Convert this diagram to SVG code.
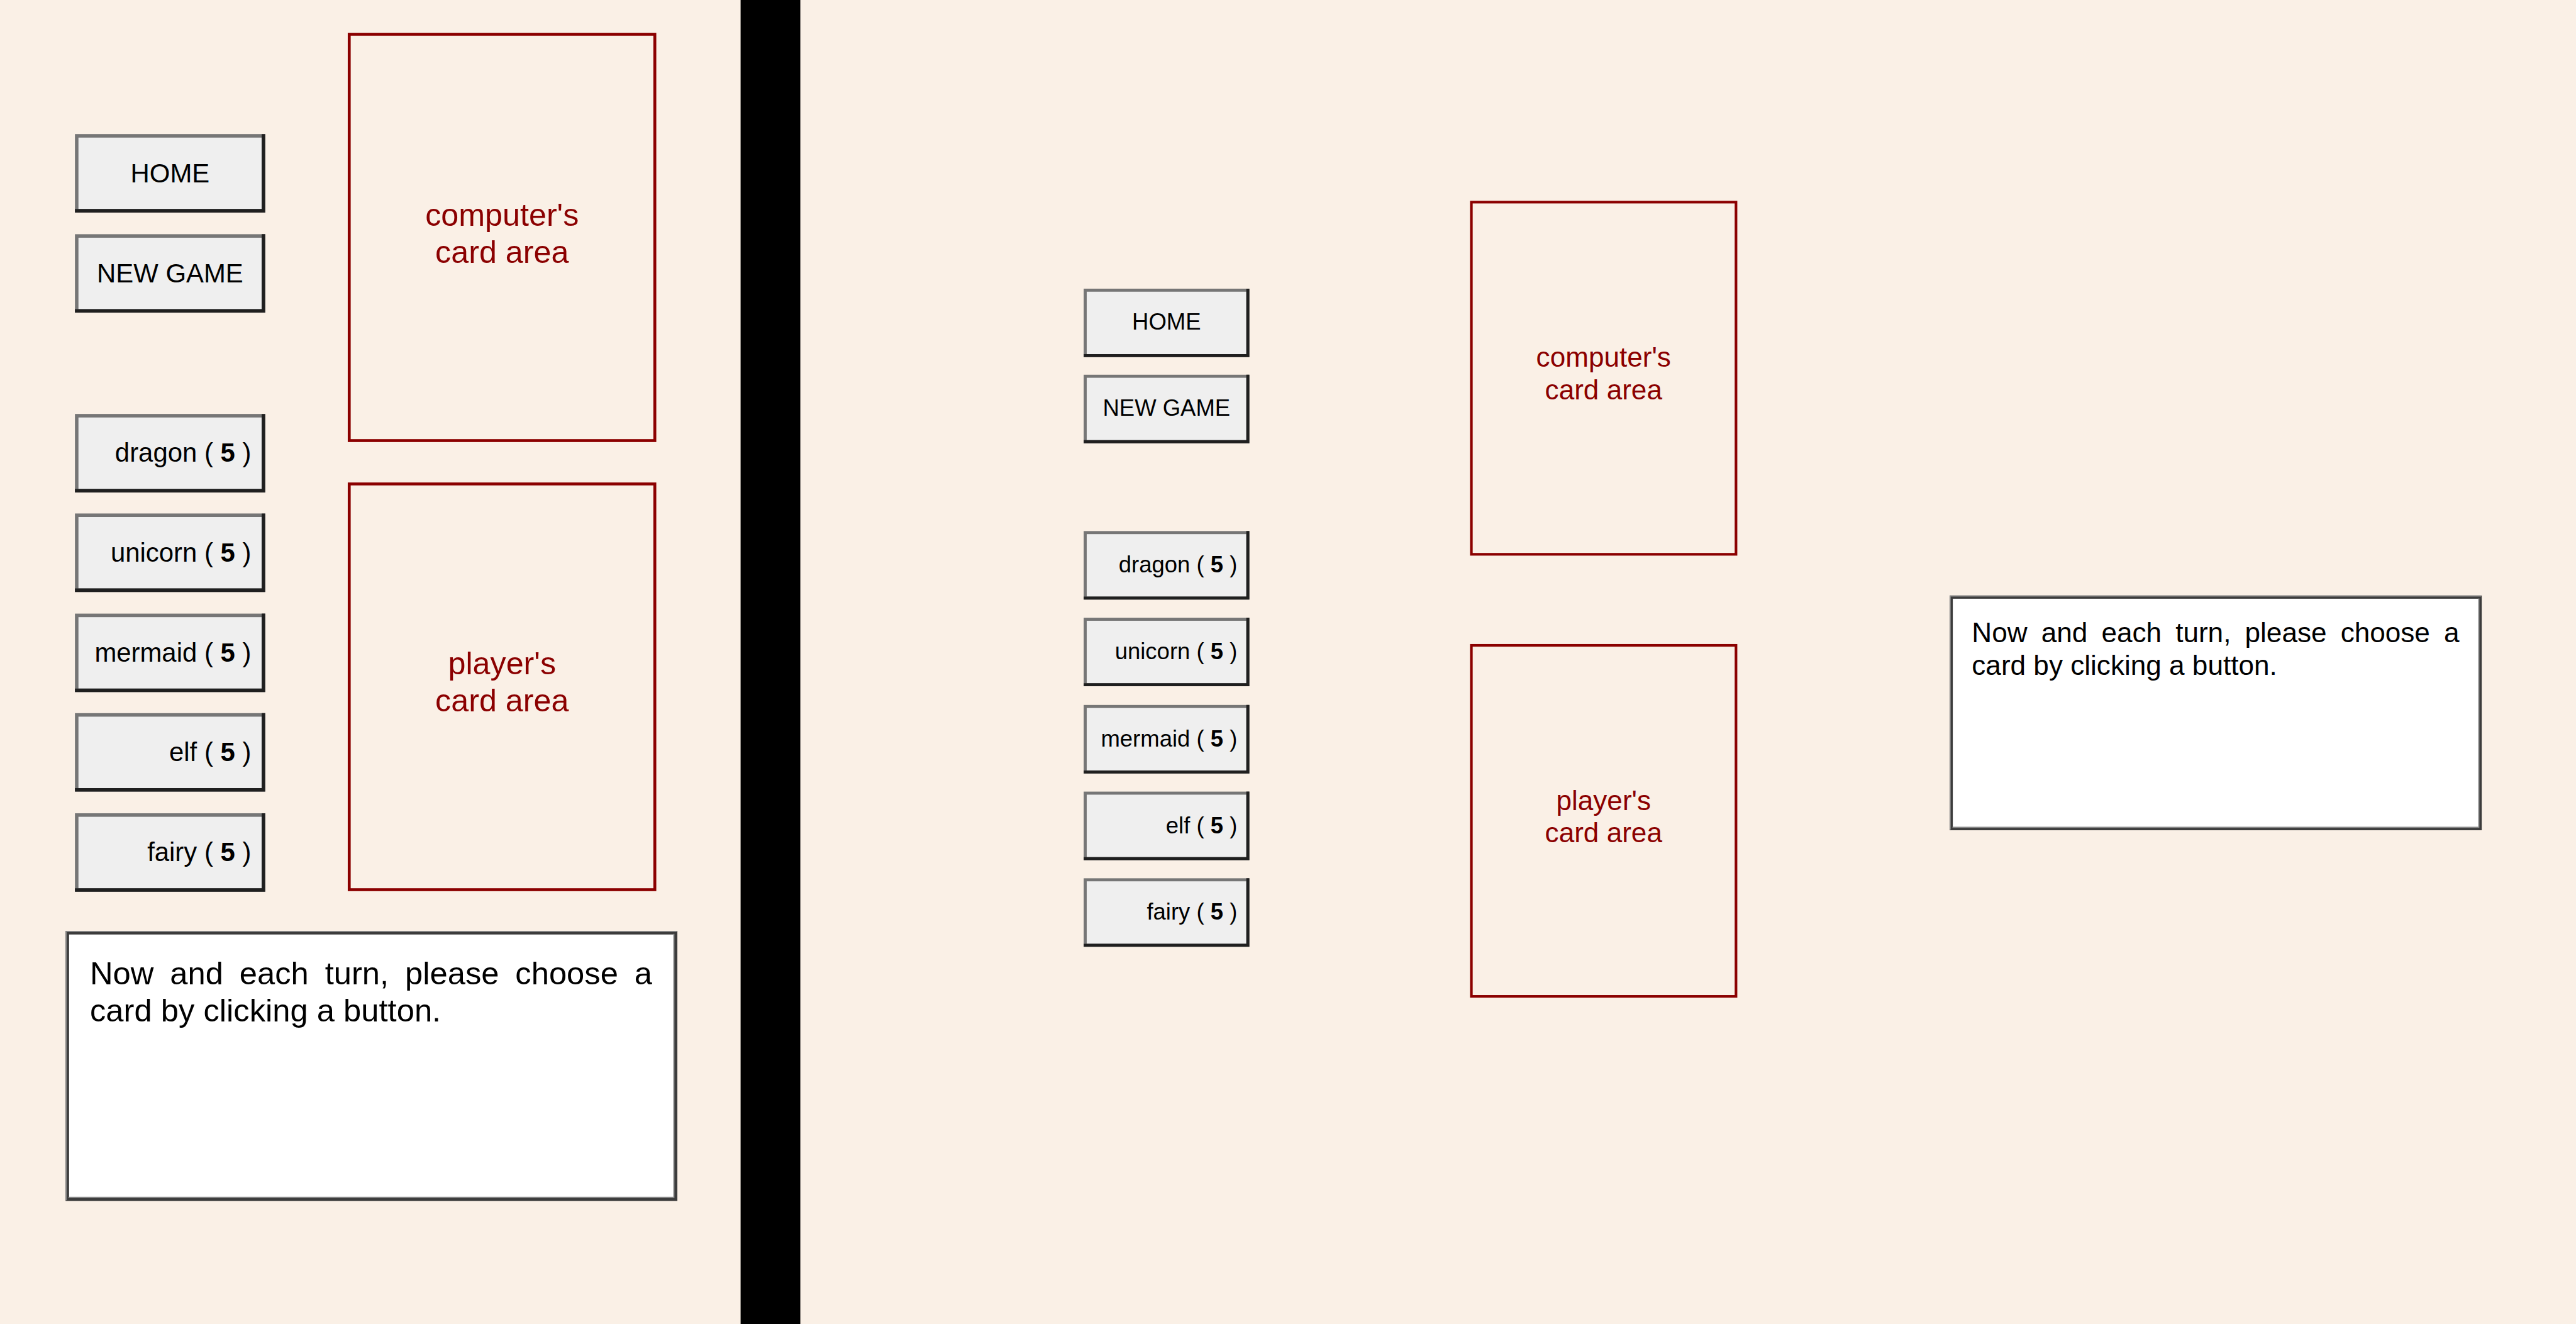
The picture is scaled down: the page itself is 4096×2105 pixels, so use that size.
<svg xmlns="http://www.w3.org/2000/svg" width="4096" height="2105" viewBox="0 0 4096 2105">
<style>
.btn{fill:#efefef;stroke:#767676}
.sh{fill:none;stroke:#1f1f1f}
.L .btn,.L .sh{stroke-width:6}
.R .btn,.R .sh{stroke-width:5.2}
.card{fill:none;stroke:#8b0000}
.t{font-family:"Liberation Sans",Arial,Helvetica,sans-serif;fill:#000}
.cl{font-family:"Liberation Sans",Arial,Helvetica,sans-serif;fill:#8b0000;text-anchor:middle}
.mid{text-anchor:middle}
.end{text-anchor:end}
.msg{fill:#fff;stroke:#3c3c3c}
.msg2{fill:none;stroke:#8c8c8c;stroke-width:2}
b,.b{font-weight:bold}
</style>
<rect x="0" y="0" width="4096" height="2105" fill="#faf0e6"/>
<g transform="scale(0.930909)">
<rect id="divider" x="1265" y="0" width="102" height="2262" fill="#000"/>

<!-- LEFT LAYOUT -->
<g class="L">
<g id="L-home"><rect class="btn" x="131" y="232" width="319" height="128"/><path class="sh" d="M450,229V360H128"/><text class="t mid" x="290.5" y="311" font-size="45">HOME</text></g>
<g id="L-newgame"><rect class="btn" x="131" y="403" width="319" height="128"/><path class="sh" d="M450,400V531H128"/><text class="t mid" x="290.5" y="482" font-size="45">NEW GAME</text></g>
<g id="L-dragon"><rect class="btn" x="131" y="710" width="319" height="128"/><path class="sh" d="M450,707V838H128"/><text class="t end" x="429" y="789" font-size="45">dragon ( <tspan class="b">5</tspan> )</text></g>
<g id="L-unicorn"><rect class="btn" x="131" y="880" width="319" height="128"/><path class="sh" d="M450,877V1008H128"/><text class="t end" x="429" y="959" font-size="45">unicorn ( <tspan class="b">5</tspan> )</text></g>
<g id="L-mermaid"><rect class="btn" x="131" y="1051" width="319" height="128"/><path class="sh" d="M450,1048V1179H128"/><text class="t end" x="429" y="1130" font-size="45">mermaid ( <tspan class="b">5</tspan> )</text></g>
<g id="L-elf"><rect class="btn" x="131" y="1221" width="319" height="128"/><path class="sh" d="M450,1218V1349H128"/><text class="t end" x="429" y="1300" font-size="45">elf ( <tspan class="b">5</tspan> )</text></g>
<g id="L-fairy"><rect class="btn" x="131" y="1392" width="319" height="128"/><path class="sh" d="M450,1389V1520H128"/><text class="t end" x="429" y="1471" font-size="45">fairy ( <tspan class="b">5</tspan> )</text></g>

<g id="L-computer-card"><rect class="card" x="596.5" y="58.5" width="522" height="694" stroke-width="5"/><text class="cl" font-size="54"><tspan x="857.5" y="386">computer's</tspan><tspan x="857.5" y="449">card area</tspan></text></g>
<g id="L-player-card"><rect class="card" x="596.5" y="826.5" width="522" height="693" stroke-width="5"/><text class="cl" font-size="54"><tspan x="857.5" y="1152">player's</tspan><tspan x="857.5" y="1215">card area</tspan></text></g>

<g id="L-message"><rect class="msg" x="115" y="1593" width="1039" height="455" stroke-width="6"/><path class="msg2" d="M113,2050V1591H1156"/><path class="msg2" d="M117,2045H1151V1595"/>
<text class="t" font-size="54.5" word-spacing="12.65"><tspan x="153.6" y="1681">Now and each turn, please choose a</tspan><tspan x="153.6" y="1744" word-spacing="0">card by clicking a button.</tspan></text></g>
</g>

<!-- RIGHT LAYOUT -->
<g class="R">
<g id="R-home"><rect class="btn" x="1853.6" y="495.6" width="277.8" height="111.8"/><path class="sh" d="M2131.4,493V607.4H1851"/><text class="t mid" x="1992.5" y="563" font-size="39.2">HOME</text></g>
<g id="R-newgame"><rect class="btn" x="1853.6" y="642.6" width="277.8" height="111.8"/><path class="sh" d="M2131.4,640V754.4H1851"/><text class="t mid" x="1992.5" y="710" font-size="39.2">NEW GAME</text></g>
<g id="R-dragon"><rect class="btn" x="1853.6" y="909.6" width="277.8" height="111.8"/><path class="sh" d="M2131.4,907V1021.4H1851"/><text class="t end" x="2113.4" y="978" font-size="39.2">dragon ( <tspan class="b">5</tspan> )</text></g>
<g id="R-unicorn"><rect class="btn" x="1853.6" y="1057.6" width="277.8" height="111.8"/><path class="sh" d="M2131.4,1055V1169.4H1851"/><text class="t end" x="2113.4" y="1126" font-size="39.2">unicorn ( <tspan class="b">5</tspan> )</text></g>
<g id="R-mermaid"><rect class="btn" x="1853.6" y="1206.6" width="277.8" height="111.8"/><path class="sh" d="M2131.4,1204V1318.4H1851"/><text class="t end" x="2113.4" y="1275" font-size="39.2">mermaid ( <tspan class="b">5</tspan> )</text></g>
<g id="R-elf"><rect class="btn" x="1853.6" y="1354.6" width="277.8" height="111.8"/><path class="sh" d="M2131.4,1352V1466.4H1851"/><text class="t end" x="2113.4" y="1423" font-size="39.2">elf ( <tspan class="b">5</tspan> )</text></g>
<g id="R-fairy"><rect class="btn" x="1853.6" y="1502.6" width="277.8" height="111.8"/><path class="sh" d="M2131.4,1500V1614.4H1851"/><text class="t end" x="2113.4" y="1571" font-size="39.2">fairy ( <tspan class="b">5</tspan> )</text></g>

<g id="R-computer-card"><rect class="card" x="2513.2" y="345.2" width="452" height="601.5" stroke-width="4.5"/><text class="cl" font-size="47.4"><tspan x="2739" y="626.5">computer's</tspan><tspan x="2739" y="682.6">card area</tspan></text></g>
<g id="R-player-card"><rect class="card" x="2513.2" y="1102.2" width="452" height="599.5" stroke-width="4.5"/><text class="cl" font-size="47.4"><tspan x="2739" y="1384">player's</tspan><tspan x="2739" y="1438">card area</tspan></text></g>

<g id="R-message"><rect class="msg" x="3332.8" y="1019.8" width="903.4" height="395.4" stroke-width="5.5"/><path class="msg2" d="M3331,1417V1018H4238"/><path class="msg2" d="M3335,1413H4234V1022"/>
<text class="t" font-size="47.4" word-spacing="10.6"><tspan x="3368" y="1096.7">Now and each turn, please choose a</tspan><tspan x="3368" y="1152.7" word-spacing="0">card by clicking a button.</tspan></text></g>
</g>
</g>
</svg>
